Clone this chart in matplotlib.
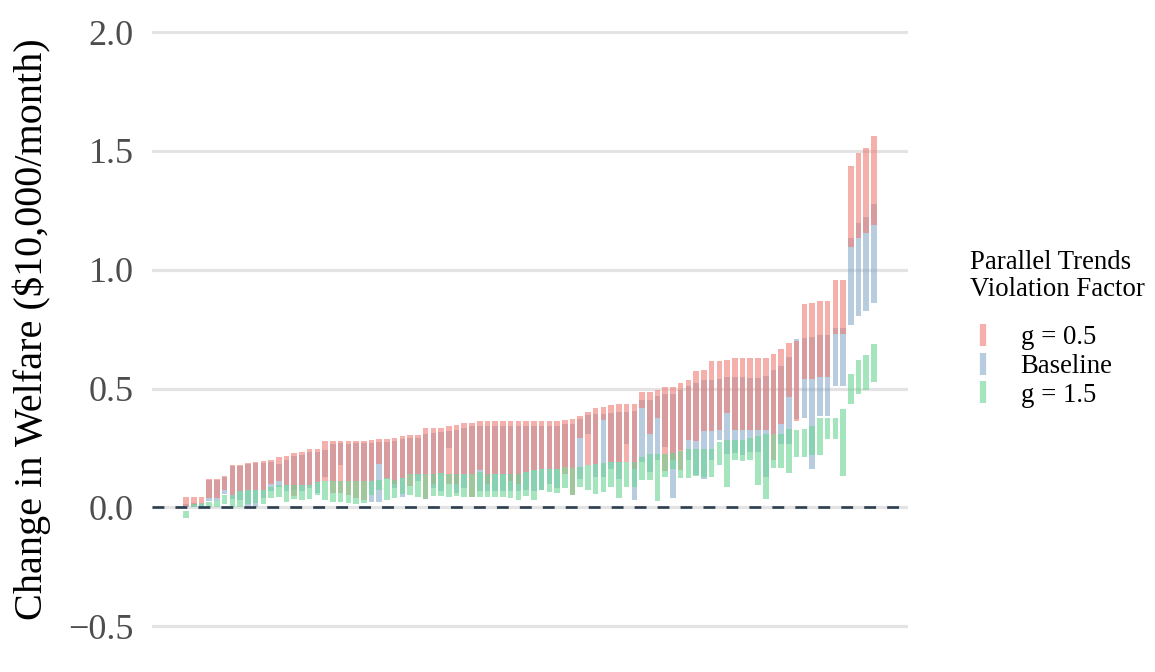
import numpy as np
import matplotlib
matplotlib.use("Agg")
import matplotlib.pyplot as plt
from matplotlib.lines import Line2D

plt.rcParams['font.family'] = ['Liberation Serif', 'DejaVu Serif']

# one floating bar per unit and scenario: [low, high] change in welfare
g05_low = [0.005, 0.01, 0.012, 0.038, 0.038, 0.072, 0.05, 0.067, 0.072, 0.072,
           0.075, 0.10, 0.11, 0.093, 0.048, 0.093, 0.096, 0.107, 0.11, 0.06,
           0.06, 0.05, 0.04, 0.03, 0.11, 0.184, 0.125, 0.10, 0.125, 0.09,
           0.142, 0.036, 0.10, 0.146, 0.10, 0.10, 0.142, 0.043, 0.159, 0.10,
           0.142, 0.142, 0.11, 0.10, 0.149, 0.159, 0.163, 0.163, 0.163, 0.142,
           0.05, 0.29, 0.18, 0.184, 0.366, 0.19, 0.19, 0.19, 0.163, 0.42,
           0.307, 0.377, 0.153, 0.20, 0.159, 0.282, 0.28, 0.322, 0.322, 0.326,
           0.396, 0.325, 0.325, 0.327, 0.327, 0.327, 0.198, 0.352, 0.464, 0.363,
           0.542, 0.542, 0.547, 0.547, 0.73, 0.73, 1.096, 1.135, 1.155, 1.187]
g05_high = [0.045, 0.045, 0.045, 0.12, 0.12, 0.133, 0.177, 0.177, 0.188, 0.19,
            0.193, 0.20, 0.21, 0.215, 0.23, 0.233, 0.244, 0.244, 0.279, 0.279,
            0.279, 0.279, 0.28, 0.28, 0.283, 0.288, 0.289, 0.293, 0.299, 0.303,
            0.306, 0.335, 0.335, 0.335, 0.341, 0.347, 0.353, 0.357, 0.363, 0.363,
            0.363, 0.363, 0.363, 0.363, 0.363, 0.363, 0.363, 0.363, 0.363, 0.366,
            0.373, 0.384, 0.40, 0.418, 0.424, 0.432, 0.433, 0.434, 0.436, 0.487,
            0.487, 0.495, 0.505, 0.505, 0.525, 0.536, 0.575, 0.577, 0.616, 0.616,
            0.622, 0.63, 0.63, 0.63, 0.63, 0.63, 0.644, 0.668, 0.692, 0.699,
            0.857, 0.86, 0.868, 0.868, 0.958, 0.958, 1.435, 1.491, 1.514, 1.561]
base_low = [0.0, 0.0, 0.0, 0.025, 0.025, 0.055, 0.035, 0.03, 0.005, 0.0,
            0.04, 0.07, 0.086, 0.07, 0.072, 0.07, 0.08, 0.06, 0.128, 0.11,
            0.18, 0.11, 0.11, 0.11, 0.022, 0.022, 0.12, 0.08, 0.043, 0.142,
            0.11, 0.142, 0.08, 0.07, 0.25, 0.06, 0.08, 0.142, 0.07, 0.07,
            0.07, 0.07, 0.07, 0.07, 0.075, 0.07, 0.074, 0.10, 0.08, 0.17,
            0.167, 0.12, 0.31, 0.128, 0.128, 0.16, 0.12, 0.268, 0.03, 0.19,
            0.15, 0.20, 0.252, 0.04, 0.24, 0.20, 0.135, 0.12, 0.20, 0.285,
            0.226, 0.23, 0.22, 0.233, 0.233, 0.128, 0.31, 0.268, 0.268, 0.373,
            0.377, 0.163, 0.383, 0.383, 0.511, 0.511, 0.766, 0.805, 0.825, 0.86]
base_high = [0.012, 0.02, 0.015, 0.114, 0.114, 0.127, 0.172, 0.172, 0.182, 0.185,
             0.188, 0.192, 0.184, 0.20, 0.215, 0.22, 0.232, 0.232, 0.24, 0.268,
             0.27, 0.265, 0.27, 0.27, 0.27, 0.275, 0.277, 0.28, 0.288, 0.29,
             0.292, 0.31, 0.313, 0.317, 0.32, 0.327, 0.333, 0.342, 0.342, 0.342,
             0.342, 0.342, 0.342, 0.342, 0.342, 0.342, 0.342, 0.342, 0.342, 0.352,
             0.352, 0.373, 0.387, 0.394, 0.394, 0.397, 0.401, 0.401, 0.405, 0.452,
             0.452, 0.467, 0.478, 0.478, 0.494, 0.51, 0.523, 0.535, 0.537, 0.541,
             0.548, 0.55, 0.55, 0.546, 0.546, 0.551, 0.579, 0.596, 0.632, 0.71,
             0.714, 0.717, 0.724, 0.724, 0.756, 0.756, 1.135, 1.197, 1.222, 1.275]
g15_low = [-0.045, 0.0, 0.0, 0.0, 0.0, 0.015, 0.0, 0.0, 0.015, 0.02,
           0.015, 0.04, 0.043, 0.022, 0.034, 0.03, 0.034, 0.053, 0.03, 0.022,
           0.022, 0.02, 0.015, 0.02, 0.05, 0.072, 0.03, 0.04, 0.055, 0.05,
           0.043, 0.036, 0.046, 0.046, 0.044, 0.046, 0.043, 0.043, 0.043, 0.043,
           0.043, 0.043, 0.04, 0.03, 0.046, 0.032, 0.074, 0.065, 0.06, 0.08,
           0.05, 0.085, 0.075, 0.058, 0.065, 0.086, 0.038, 0.086, 0.086, 0.114,
           0.114, 0.025, 0.128, 0.16, 0.125, 0.125, 0.13, 0.128, 0.128, 0.177,
           0.086, 0.20, 0.195, 0.198, 0.093, 0.036, 0.165, 0.167, 0.145, 0.21,
           0.212, 0.219, 0.219, 0.289, 0.289, 0.13, 0.436, 0.476, 0.495, 0.527]
g15_high = [-0.015, 0.015, 0.02, 0.022, 0.025, 0.05, 0.05, 0.067, 0.072, 0.072,
            0.075, 0.085, 0.093, 0.093, 0.093, 0.093, 0.096, 0.107, 0.11, 0.11,
            0.11, 0.11, 0.11, 0.11, 0.11, 0.114, 0.125, 0.117, 0.125, 0.142,
            0.142, 0.142, 0.139, 0.146, 0.142, 0.142, 0.142, 0.142, 0.15, 0.142,
            0.142, 0.142, 0.142, 0.142, 0.149, 0.159, 0.163, 0.163, 0.163, 0.17,
            0.167, 0.17, 0.18, 0.184, 0.187, 0.19, 0.19, 0.19, 0.19, 0.212,
            0.223, 0.226, 0.226, 0.23, 0.237, 0.247, 0.247, 0.247, 0.247, 0.277,
            0.282, 0.282, 0.285, 0.293, 0.30, 0.307, 0.31, 0.31, 0.331, 0.327,
            0.331, 0.341, 0.376, 0.376, 0.376, 0.415, 0.563, 0.619, 0.643, 0.686]

labels = ['g = 0.5', 'Baseline', 'g = 1.5']
colors = ['#F07C74', '#88AACB', '#69D593']
alpha = 0.6

x = np.arange(len(g05_low))

fig = plt.figure(figsize=(11.55, 6.72), dpi=100)
ax = fig.add_axes([0.1316, 0.047, 0.6545, 0.9265])

# baseline drawn first, then g = 0.5 over it, then g = 1.5
series = [(base_low, base_high, colors[1]),
          (g05_low, g05_high, colors[0]),
          (g15_low, g15_high, colors[2])]
for lo, hi, c in series:
    lo = np.array(lo)
    hi = np.array(hi)
    ax.bar(x, hi - lo, bottom=lo, width=0.72, color=c, alpha=alpha,
           linewidth=0, zorder=2)

ax.axhline(0, color='#2c3e50', lw=1.9, ls=(0, (4.5, 4.2)), zorder=5)

ax.set_xlim(-4.4, 93.4)
ax.set_ylim(-0.56, 2.06)
ax.set_yticks([-0.5, 0.0, 0.5, 1.0, 1.5, 2.0])
ax.set_yticklabels(['\u22120.5', '0.0', '0.5', '1.0', '1.5', '2.0'])
ax.set_xticks([])
ax.tick_params(axis='y', length=0, pad=13, labelsize=26, labelcolor='#4d4d4d')
ax.yaxis.grid(True, color='#e3e3e3', lw=2.3)
ax.set_axisbelow(True)
for s in ax.spines.values():
    s.set_visible(False)
ax.set_ylabel('Change in Welfare (\\$10,000/month)', fontsize=29)
ax.yaxis.set_label_coords(-0.133, 0.5)

# legend
fig.text(0.84, 0.628, 'Parallel Trends\nViolation Factor', fontsize=19.3,
         va='top', ha='left', linespacing=1.1)
handles = [Line2D([0], [0], marker='|', linestyle='none', color=c, alpha=alpha,
                  markersize=16, markeredgewidth=4.5) for c in colors]
fig.legend(handles, labels, loc='upper left', bbox_to_anchor=(0.8407, 0.516),
           frameon=False, fontsize=19.3, handlelength=0.9, handletextpad=0.95,
           labelspacing=0.14, borderpad=0, borderaxespad=0)

fig.savefig('out.png', dpi=100)
